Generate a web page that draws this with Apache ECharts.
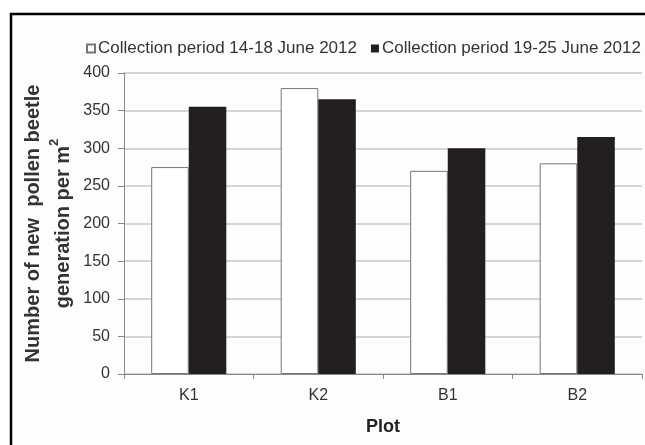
<!DOCTYPE html>
<html>
<head>
<meta charset="utf-8">
<script src="https://cdn.jsdelivr.net/npm/echarts@6/dist/echarts.min.js"></script>
<style>
html,body{margin:0;padding:0;background:#fff;}
#c{width:645px;height:445px;}
</style>
</head>
<body>
<div id="c"></div>
<script>
var categories = ['K1', 'K2', 'B1', 'B2'];
var seriesNames = ['Collection period 14-18 June 2012', 'Collection period 19-25 June 2012'];
var period1 = [275, 380, 270, 280];
var period2 = [355, 365, 300, 315];
var yTicks = [0, 50, 100, 150, 200, 250, 300, 350, 400];

var chart = echarts.init(document.getElementById('c'));
var font = "'Liberation Sans', Arial, sans-serif";
chart.setOption({
  backgroundColor: '#ffffff',
  animation: false,
  textStyle: { fontFamily: font },
  graphic: [
    { type: 'rect', shape: { x: 11, y: 14, width: 640, height: 440 }, style: { fill: '#fdfdfd', stroke: '#000', lineWidth: 2.5 }, z: -10 }
  ],
  legend: {
    left: 81, top: 35,
    itemWidth: 8, itemHeight: 8, itemGap: 14,
    icon: 'rect',
    textStyle: { fontFamily: font, fontSize: 17, color: '#333', padding: [0, 0, 0, -2] },
    data: seriesNames
  },
  grid: { left: 124, top: 73, right: 3, bottom: 71 },
  xAxis: {
    type: 'category',
    data: categories,
    name: 'Plot',
    nameLocation: 'middle',
    nameGap: 44,
    nameTextStyle: { fontFamily: font, fontSize: 18, fontWeight: 'bold', color: '#222' },
    axisLine: { lineStyle: { color: '#888', width: 1 } },
    axisTick: { show: true, length: 5, lineStyle: { color: '#888' } },
    axisLabel: { fontFamily: font, fontSize: 16, color: '#333', margin: 14 }
  },
  yAxis: {
    type: 'value',
    min: 0, max: 400, interval: 50,
    name: '{a|Number of new  pollen beetle}\n{a|generation per m}{s|2}',
    nameLocation: 'middle',
    nameGap: 46,
    nameMoveOverlap: false,
    nameTextStyle: {
      fontFamily: font, fontWeight: 'bold', color: '#333', lineHeight: 30,
      rich: {
        a: { fontFamily: font, fontSize: 20, fontWeight: 'bold', color: '#333', lineHeight: 30 },
        s: { fontFamily: font, fontSize: 13, fontWeight: 'bold', color: '#333', lineHeight: 30, verticalAlign: 'top', padding: [0, 0, 10, 0] }
      }
    },
    axisLine: { show: true, lineStyle: { color: '#888', width: 1 } },
    axisTick: { show: true, length: 6, lineStyle: { color: '#888' } },
    axisLabel: { fontFamily: font, fontSize: 16, color: '#333', margin: 14,
      formatter: function (v) { return yTicks.indexOf(v) >= 0 ? String(v) : ''; } },
    splitLine: { show: true, lineStyle: { color: '#c8c8c8', width: 1.5 } }
  },
  series: [
    {
      name: seriesNames[0], type: 'bar', data: period1,
      barGap: '0%', barCategoryGap: '42%',
      itemStyle: { color: '#ffffff', borderColor: '#777', borderWidth: 1 }
    },
    {
      name: seriesNames[1], type: 'bar', data: period2,
      barGap: '0%', barCategoryGap: '42%',
      itemStyle: { color: '#231f20' }
    }
  ]
});
</script>
</body>
</html>
